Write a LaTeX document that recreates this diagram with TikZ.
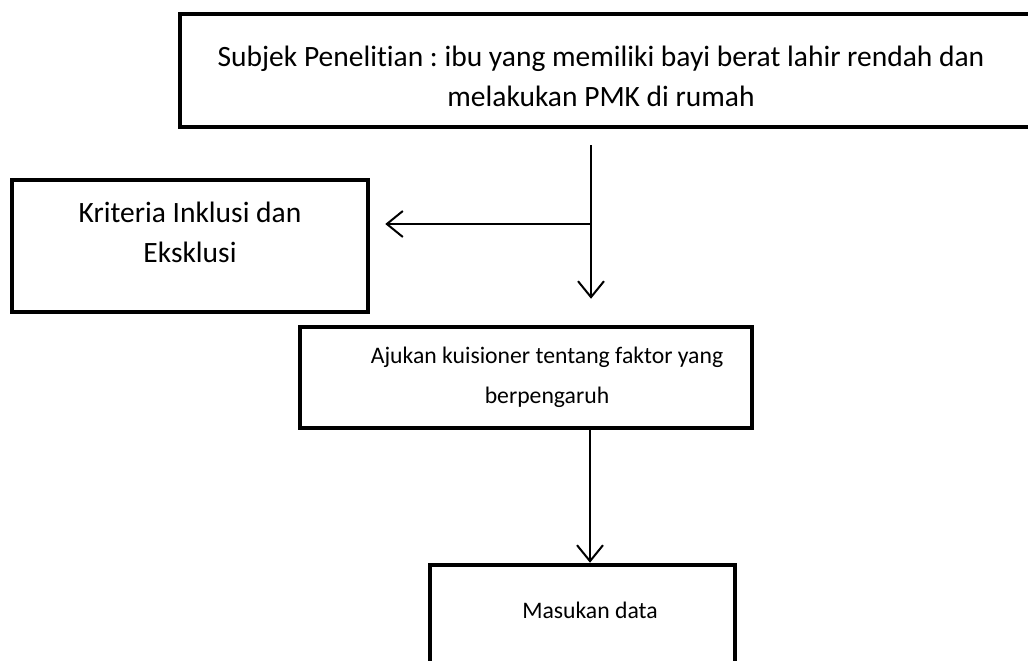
\documentclass[tikz,border=0pt]{standalone}
\usepackage{fontspec}
\setmainfont[Ligatures={NoCommon}]{Carlito}
\usetikzlibrary{arrows.meta}
\frenchspacing
\begin{document}
\begin{tikzpicture}[x=1pt,y=-1pt,
  box/.style={draw=black, line width=4.5pt, rectangle, inner sep=0pt},
  txt/.style={align=center, font=\fontsize{29.5}{40}\selectfont, inner sep=0pt},
  smalltxt/.style={align=center, font=\fontsize{23.7}{40}\selectfont, inner sep=0pt},
  arr/.style={draw=black, line width=2pt, -{Straight Barb[length=16pt,width=26pt,line width=2pt]}}
]
\useasboundingbox (0,0) rectangle (1028,661);
% boxes
\node[box, minimum width=854pt, minimum height=113pt] (top) at (607,70.5) {};
\node[box, minimum width=356pt, minimum height=132pt] (krit) at (190,246) {};
\node[box, minimum width=452pt, minimum height=101pt] (aj) at (526,377.5) {};
\node[box, minimum width=305pt, minimum height=140pt] (mas) at (582.5,635) {};
% texts
\node[txt] (ttop) at (601,76) {Subjek Penelitian : ibu yang memiliki bayi berat lahir rendah dan\\melakukan PMK di rumah};
\node[txt] (tkrit) at (190,232) {Kriteria Inklusi dan\\Eksklusi};
\node[smalltxt] (taj) at (547,377) {Ajukan kuisioner tentang faktor yang\\berpengaruh};
\node[smalltxt] (tmas) at (590,610) {Masukan data};
% connectors
\coordinate (j) at (591,224);
\coordinate (j2) at (590,500);
\draw[arr, shorten <=16pt, shorten >=26pt] (top.south -| j) -- (aj.north -| j);
\draw[arr, shorten >=15pt] (j) -- (krit.east |- j);
\draw[arr] (aj.south -| j2) -- (mas.north -| j2);
\end{tikzpicture}
\end{document}
